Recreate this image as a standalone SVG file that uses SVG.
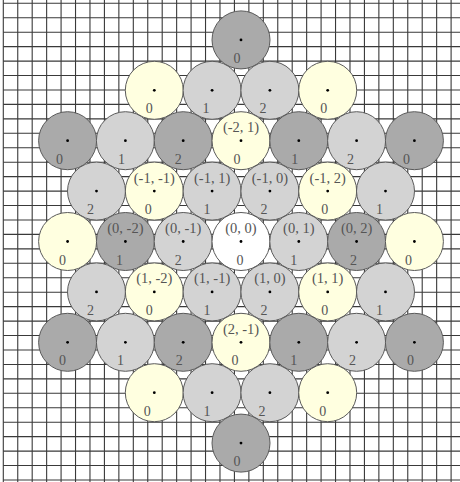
<svg xmlns="http://www.w3.org/2000/svg" width="460" height="482" viewBox="0 0 460 482">
<style>
.grid{stroke:#3a3a3a;stroke-width:1.1;fill:none}
circle.c{stroke:#5a5a5a;stroke-width:1}
.dark{fill:#aaaaaa}
.light{fill:#d3d3d3}
.yellow{fill:#ffffe0}
.white{fill:#ffffff}
.dot{fill:#000}
text{font-family:"Liberation Serif","DejaVu Serif",serif;fill:#555;text-anchor:middle}
.coord{font-size:14.5px}
.num{font-size:14px}
</style>
<rect width="460" height="482" fill="#fff"/>
<g id="grid">
<path class="grid" d="M3.3 0V482M17.75 0V482M32.19 0V482M46.64 0V482M61.08 0V482M75.53 0V482M89.97 0V482M104.42 0V482M118.86 0V482M133.31 0V482M147.75 0V482M162.2 0V482M176.64 0V482M191.09 0V482M205.53 0V482M219.98 0V482M234.42 0V482M248.87 0V482M263.31 0V482M277.76 0V482M292.2 0V482M306.65 0V482M321.09 0V482M335.54 0V482M349.98 0V482M364.43 0V482M378.87 0V482M393.32 0V482M407.76 0V482M422.21 0V482M436.65 0V482M451.1 0V482"/>
<path class="grid" d="M3.3 3.3H460M3.3 17.75H460M3.3 32.19H460M3.3 46.64H460M3.3 61.08H460M3.3 75.53H460M3.3 89.97H460M3.3 104.42H460M3.3 118.86H460M3.3 133.31H460M3.3 147.75H460M3.3 162.2H460M3.3 176.64H460M3.3 191.09H460M3.3 205.53H460M3.3 219.98H460M3.3 234.42H460M3.3 248.87H460M3.3 263.31H460M3.3 277.76H460M3.3 292.2H460M3.3 306.65H460M3.3 321.09H460M3.3 335.54H460M3.3 349.98H460M3.3 364.43H460M3.3 378.87H460M3.3 393.32H460M3.3 407.76H460M3.3 422.21H460M3.3 436.65H460M3.3 451.1H460M3.3 465.54H460M3.3 479.99H460"/>
</g>
<g id="connectors"></g>
<g id="nodes">
<!-- row 1 -->
<g id="r1c1"><circle class="c dark" cx="241" cy="39.9" r="29"/><circle class="dot" cx="241" cy="39.9" r="1.4"/><text class="num" x="237" y="62.9">0</text></g>
<!-- row 2 -->
<g id="r2c1"><circle class="c yellow" cx="154.3" cy="90.3" r="29"/><circle class="dot" cx="154.3" cy="90.3" r="1.4"/><text class="num" x="149.3" y="113.3">0</text></g>
<g id="r2c2"><circle class="c light" cx="212.1" cy="90.3" r="29"/><circle class="dot" cx="212.1" cy="90.3" r="1.4"/><text class="num" x="206.1" y="113.3">1</text></g>
<g id="r2c3"><circle class="c light" cx="269.9" cy="90.3" r="29"/><circle class="dot" cx="269.9" cy="90.3" r="1.4"/><text class="num" x="262.9" y="113.3">2</text></g>
<g id="r2c4"><circle class="c yellow" cx="327.7" cy="90.3" r="29"/><circle class="dot" cx="327.7" cy="90.3" r="1.4"/><text class="num" x="323.7" y="113.3">0</text></g>
<!-- row 3 -->
<g id="r3c1"><circle class="c dark" cx="67.6" cy="140.7" r="29"/><circle class="dot" cx="67.6" cy="140.7" r="1.4"/><text class="num" x="59.6" y="163.7">0</text></g>
<g id="r3c2"><circle class="c light" cx="125.4" cy="140.7" r="29"/><circle class="dot" cx="125.4" cy="140.7" r="1.4"/><text class="num" x="121.4" y="163.7">1</text></g>
<g id="r3c3"><circle class="c dark" cx="183.2" cy="140.7" r="29"/><circle class="dot" cx="183.2" cy="140.7" r="1.4"/><text class="num" x="178.2" y="163.7">2</text></g>
<g id="r3c4"><circle class="c yellow" cx="241" cy="140.7" r="29"/><circle class="dot" cx="241" cy="140.7" r="1.4"/><text class="coord" x="241" y="132.2">(-2, 1)</text><text class="num" x="237" y="163.7">0</text></g>
<g id="r3c5"><circle class="c dark" cx="298.8" cy="140.7" r="29"/><circle class="dot" cx="298.8" cy="140.7" r="1.4"/><text class="num" x="294.8" y="163.7">1</text></g>
<g id="r3c6"><circle class="c light" cx="356.6" cy="140.7" r="29"/><circle class="dot" cx="356.6" cy="140.7" r="1.4"/><text class="num" x="350.6" y="163.7">2</text></g>
<g id="r3c7"><circle class="c dark" cx="414.4" cy="140.7" r="29"/><circle class="dot" cx="414.4" cy="140.7" r="1.4"/><text class="num" x="406.4" y="163.7">0</text></g>
<!-- row 4 -->
<g id="r4c1"><circle class="c light" cx="96.5" cy="191.1" r="29"/><circle class="dot" cx="96.5" cy="191.1" r="1.4"/><text class="num" x="90.5" y="214.1">2</text></g>
<g id="r4c2"><circle class="c yellow" cx="154.3" cy="191.1" r="29"/><circle class="dot" cx="154.3" cy="191.1" r="1.4"/><text class="coord" x="154.3" y="182.6">(-1, -1)</text><text class="num" x="148.3" y="214.1">0</text></g>
<g id="r4c3"><circle class="c light" cx="212.1" cy="191.1" r="29"/><circle class="dot" cx="212.1" cy="191.1" r="1.4"/><text class="coord" x="212.1" y="182.6">(-1, 1)</text><text class="num" x="207.1" y="214.1">1</text></g>
<g id="r4c4"><circle class="c light" cx="269.9" cy="191.1" r="29"/><circle class="dot" cx="269.9" cy="191.1" r="1.4"/><text class="coord" x="269.9" y="182.6">(-1, 0)</text><text class="num" x="263.9" y="214.1">2</text></g>
<g id="r4c5"><circle class="c yellow" cx="327.7" cy="191.1" r="29"/><circle class="dot" cx="327.7" cy="191.1" r="1.4"/><text class="coord" x="327.7" y="182.6">(-1, 2)</text><text class="num" x="324.7" y="214.1">0</text></g>
<g id="r4c6"><circle class="c light" cx="385.5" cy="191.1" r="29"/><circle class="dot" cx="385.5" cy="191.1" r="1.4"/><text class="num" x="379.5" y="214.1">1</text></g>
<!-- row 5 -->
<g id="r5c1"><circle class="c yellow" cx="67.6" cy="241.5" r="29"/><circle class="dot" cx="67.6" cy="241.5" r="1.4"/><text class="num" x="62.6" y="264.5">0</text></g>
<g id="r5c2"><circle class="c dark" cx="125.4" cy="241.5" r="29"/><circle class="dot" cx="125.4" cy="241.5" r="1.4"/><text class="coord" x="125.4" y="233">(0, -2)</text><text class="num" x="119.4" y="264.5">1</text></g>
<g id="r5c3"><circle class="c light" cx="183.2" cy="241.5" r="29"/><circle class="dot" cx="183.2" cy="241.5" r="1.4"/><text class="coord" x="183.2" y="233">(0, -1)</text><text class="num" x="178.2" y="264.5">2</text></g>
<g id="r5c4"><circle class="c white" cx="241" cy="241.5" r="29"/><circle class="dot" cx="241" cy="241.5" r="1.4"/><text class="coord" x="241" y="233">(0, 0)</text><text class="num" x="240" y="264.5">0</text></g>
<g id="r5c5"><circle class="c light" cx="298.8" cy="241.5" r="29"/><circle class="dot" cx="298.8" cy="241.5" r="1.4"/><text class="coord" x="298.8" y="233">(0, 1)</text><text class="num" x="293.8" y="264.5">1</text></g>
<g id="r5c6"><circle class="c dark" cx="356.6" cy="241.5" r="29"/><circle class="dot" cx="356.6" cy="241.5" r="1.4"/><text class="coord" x="356.6" y="233">(0, 2)</text><text class="num" x="353.6" y="264.5">2</text></g>
<g id="r5c7"><circle class="c yellow" cx="414.4" cy="241.5" r="29"/><circle class="dot" cx="414.4" cy="241.5" r="1.4"/><text class="num" x="408.4" y="264.5">0</text></g>
<!-- row 6 -->
<g id="r6c1"><circle class="c light" cx="96.5" cy="291.9" r="29"/><circle class="dot" cx="96.5" cy="291.9" r="1.4"/><text class="num" x="90.5" y="314.9">2</text></g>
<g id="r6c2"><circle class="c yellow" cx="154.3" cy="291.9" r="29"/><circle class="dot" cx="154.3" cy="291.9" r="1.4"/><text class="coord" x="154.3" y="283.4">(1, -2)</text><text class="num" x="149.3" y="314.9">0</text></g>
<g id="r6c3"><circle class="c light" cx="212.1" cy="291.9" r="29"/><circle class="dot" cx="212.1" cy="291.9" r="1.4"/><text class="coord" x="212.1" y="283.4">(1, -1)</text><text class="num" x="207.1" y="314.9">1</text></g>
<g id="r6c4"><circle class="c light" cx="269.9" cy="291.9" r="29"/><circle class="dot" cx="269.9" cy="291.9" r="1.4"/><text class="coord" x="269.9" y="283.4">(1, 0)</text><text class="num" x="263.9" y="314.9">2</text></g>
<g id="r6c5"><circle class="c yellow" cx="327.7" cy="291.9" r="29"/><circle class="dot" cx="327.7" cy="291.9" r="1.4"/><text class="coord" x="327.7" y="283.4">(1, 1)</text><text class="num" x="324.7" y="314.9">0</text></g>
<g id="r6c6"><circle class="c light" cx="385.5" cy="291.9" r="29"/><circle class="dot" cx="385.5" cy="291.9" r="1.4"/><text class="num" x="379.5" y="314.9">1</text></g>
<!-- row 7 -->
<g id="r7c1"><circle class="c dark" cx="67.6" cy="342.3" r="29"/><circle class="dot" cx="67.6" cy="342.3" r="1.4"/><text class="num" x="62.6" y="365.3">0</text></g>
<g id="r7c2"><circle class="c light" cx="125.4" cy="342.3" r="29"/><circle class="dot" cx="125.4" cy="342.3" r="1.4"/><text class="num" x="120.4" y="365.3">1</text></g>
<g id="r7c3"><circle class="c dark" cx="183.2" cy="342.3" r="29"/><circle class="dot" cx="183.2" cy="342.3" r="1.4"/><text class="num" x="179.2" y="365.3">2</text></g>
<g id="r7c4"><circle class="c yellow" cx="241" cy="342.3" r="29"/><circle class="dot" cx="241" cy="342.3" r="1.4"/><text class="coord" x="241" y="333.8">(2, -1)</text><text class="num" x="235" y="365.3">0</text></g>
<g id="r7c5"><circle class="c dark" cx="298.8" cy="342.3" r="29"/><circle class="dot" cx="298.8" cy="342.3" r="1.4"/><text class="num" x="293.8" y="365.3">1</text></g>
<g id="r7c6"><circle class="c light" cx="356.6" cy="342.3" r="29"/><circle class="dot" cx="356.6" cy="342.3" r="1.4"/><text class="num" x="352.6" y="365.3">2</text></g>
<g id="r7c7"><circle class="c dark" cx="414.4" cy="342.3" r="29"/><circle class="dot" cx="414.4" cy="342.3" r="1.4"/><text class="num" x="410.4" y="365.3">0</text></g>
<!-- row 8 -->
<g id="r8c1"><circle class="c yellow" cx="154.3" cy="392.7" r="29"/><circle class="dot" cx="154.3" cy="392.7" r="1.4"/><text class="num" x="147.3" y="415.7">0</text></g>
<g id="r8c2"><circle class="c light" cx="212.1" cy="392.7" r="29"/><circle class="dot" cx="212.1" cy="392.7" r="1.4"/><text class="num" x="207.1" y="415.7">1</text></g>
<g id="r8c3"><circle class="c light" cx="269.9" cy="392.7" r="29"/><circle class="dot" cx="269.9" cy="392.7" r="1.4"/><text class="num" x="261.9" y="415.7">2</text></g>
<g id="r8c4"><circle class="c yellow" cx="327.7" cy="392.7" r="29"/><circle class="dot" cx="327.7" cy="392.7" r="1.4"/><text class="num" x="322.7" y="415.7">0</text></g>
<!-- row 9 -->
<g id="r9c1"><circle class="c dark" cx="241" cy="443.1" r="29"/><circle class="dot" cx="241" cy="443.1" r="1.4"/><text class="num" x="237" y="466.1">0</text></g>
</g>
</svg>
